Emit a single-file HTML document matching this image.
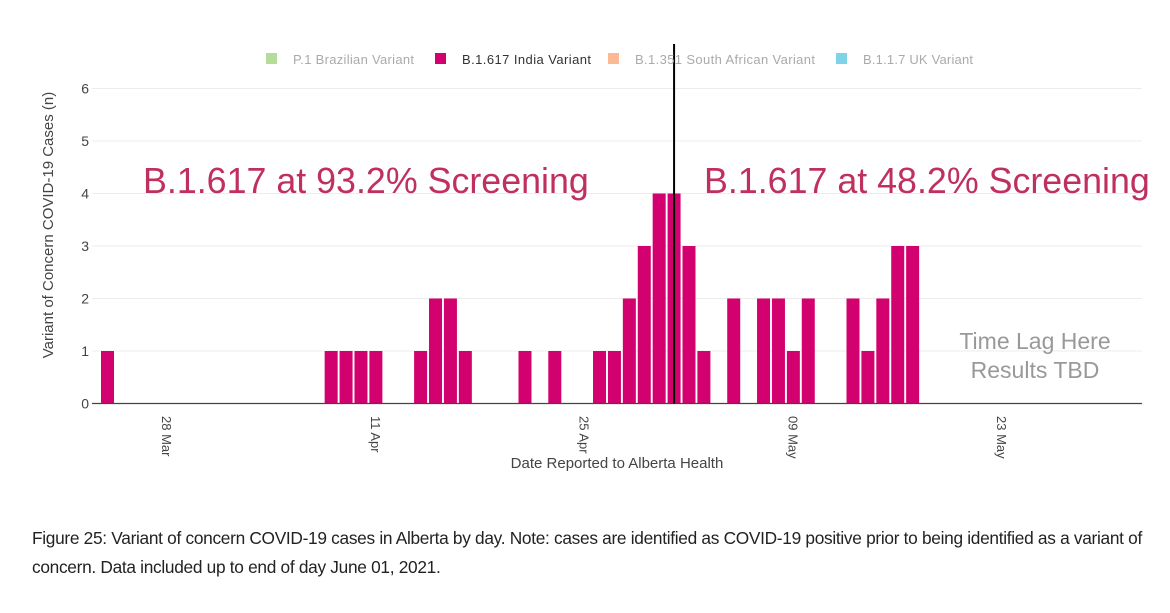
<!DOCTYPE html>
<html><head><meta charset="utf-8"><style>
body{margin:0;background:#fff;width:1170px;height:613px;overflow:hidden;font-family:"Liberation Sans",sans-serif}
svg{position:absolute;left:0;top:0}
.cap{position:absolute;left:32px;top:524px;width:1130px;font-size:17.3px;line-height:29px;color:#222;font-family:"Liberation Sans",sans-serif;letter-spacing:-0.3px}
</style></head><body>
<svg id="chart" width="1170" height="613"></svg>
<div class="cap">Figure 25: Variant of concern COVID-19 cases in Alberta by day. Note: cases are identified as COVID-19 positive prior to being identified as a variant of concern. Data included up to end of day June 01, 2021.</div>
<script>
// day index 0 = 24 Mar 2021
const dayIndex = [0,15,16,17,18,21,22,23,24,28,30,33,34,35,36,37,38,39,40,42,44,45,46,47,50,51,52,53,54];
const cases    = [1,1,1,1,1,1,2,2,1,1,1,1,1,2,3,4,4,3,1,2,2,2,1,2,2,1,2,3,3];
const yTicks = [0,1,2,3,4,5,6];
const xTickDays = [4,18,32,46,60];
const xTickLabels = ['28 Mar','11 Apr','25 Apr','09 May','23 May'];
const dividerDay = 38;

const svg=document.getElementById('chart');
const NS='http://www.w3.org/2000/svg';
const L=92,R=1142,Y0=403.5,UNIT=52.5;
const x=d=>107.5+d*14.91;
const y=v=>Y0-v*UNIT;
function mk(t,a,txt){const e=document.createElementNS(NS,t);for(const k in a)e.setAttribute(k,a[k]);if(txt!==undefined)e.textContent=txt;svg.appendChild(e);return e;}

yTicks.forEach(v=>{
  if(v>0){const g=mk('line',{x1:L,x2:R,y1:y(v),y2:y(v),stroke:'#ececec','stroke-width':1});
  
  }
  const t=mk('text',{x:L-3,y:y(v)+5,'text-anchor':'end','font-size':14,fill:'#444'},v);
  
  
});
xTickDays.forEach((d,i)=>{
  const t=mk('text',{transform:`translate(${x(d)-5},416) rotate(90)`,'font-size':13,fill:'#444'},xTickLabels[i]);
  
  
});
dayIndex.forEach((d,i)=>{
  const b=mk('rect',{x:x(d)-6.5,y:y(cases[i]),width:13,height:cases[i]*UNIT,fill:'#d3006f'});
  
  
});
const ax=mk('line',{x1:L,x2:R,y1:Y0,y2:Y0,stroke:'#444','stroke-width':1.3});


const vl=mk('line',{x1:x(dividerDay),x2:x(dividerDay),y1:44,y2:Y0,stroke:'#000','stroke-width':2});



const yt=mk('text',{transform:'translate(53,225) rotate(-90)','text-anchor':'middle','font-size':15,fill:'#444'},'Variant of Concern COVID-19 Cases (n)');


const xt=mk('text',{x:617,y:468,'text-anchor':'middle','font-size':15,fill:'#444'},'Date Reported to Alberta Health');



const a1=mk('text',{x:143,y:193,'font-size':35.8,fill:'#c0305f'},'B.1.617 at 93.2% Screening');


const a2=mk('text',{x:704,y:193,'font-size':35.8,fill:'#c0305f'},'B.1.617 at 48.2% Screening');


const a3=mk('text',{x:1035,y:349,'text-anchor':'middle','font-size':23,fill:'#999'},'Time Lag Here');


const a4=mk('text',{x:1035,y:378,'text-anchor':'middle','font-size':23,fill:'#999'},'Results TBD');



const legendNames=['P.1 Brazilian Variant','B.1.617 India Variant','B.1.351 South African Variant','B.1.1.7 UK Variant'];
const legendColors=['#b5dc9b','#d3006f','#fdb994','#7fd3e6'];
const legendX=[266,435,608,836];
legendNames.forEach((n,i)=>{
  const s=mk('rect',{x:legendX[i],y:53,width:11,height:11,fill:legendColors[i]});
  
  
  const t=mk('text',{x:legendX[i]+27,y:64,'font-size':13,fill:i==1?'#333':'#aaa',textLength:[121,129,180,110][i]},n);
  
  
});
</script>
</body></html>
